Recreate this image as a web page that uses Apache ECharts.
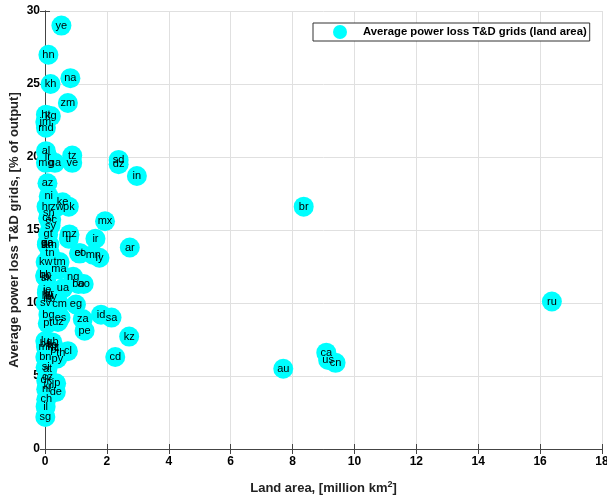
<!DOCTYPE html>
<html>
<head>
<meta charset="utf-8">
<script src="https://cdn.jsdelivr.net/npm/echarts@6/dist/echarts.min.js"></script>
<style>
  html, body { margin: 0; padding: 0; background: #fff; }
  #chart { width: 607px; height: 497px; }
</style>
</head>
<body>
<div id="chart"></div>
<script>
// country codes, land area (million km2), average T&D loss (% of output)
const codes = [
  'ye', 'hn', 'na', 'kh', 'zm', 'ht', 'kg', 'jm', 'md', 'al',
  'lr', 'mg', 'ga', 'tz', 've', 'sd', 'dz', 'in', 'az', 'ni',
  'ke', 'hr', 'zw', 'pk', 'sn', 'cu', 'ec', 'sy', 'mx', 'gt',
  'mz', 'tr', 'ir', 'ar', 'pa', 'am', 'ge', 'lk', 'tn', 'et',
  'co', 'mn', 'ly', 'kw', 'tm', 'ma', 'bh', 'lb', 'sk', 'ng',
  'bo', 'ao', 'ua', 'ie', 'lv', 'hu', 'gr', 'by', 'rs', 'sv',
  'cm', 'eg', 'bg', 'es', 'pt', 'uz', 'za', 'id', 'sa', 'pe',
  'kz', 'cd', 'cl', 'lu', 'be', 'mk', 'gb', 'ro', 'nz', 'it',
  'pl', 'bn', 'py', 'th', 'si', 'at', 'cz', 'dk', 'jp', 'kr',
  'nl', 'de', 'ch', 'il', 'sg', 'br', 'au', 'ca', 'us', 'cn',
  'ru'
];
const landArea = [
  0.53, 0.11, 0.82, 0.18, 0.74, 0.03, 0.19, 0.01, 0.03, 0.03,
  0.09, 0.03, 0.32, 0.88, 0.88, 2.38, 2.38, 2.97, 0.08, 0.12,
  0.57, 0.05, 0.39, 0.77, 0.12, 0.10, 0.20, 0.18, 1.94, 0.10,
  0.79, 0.77, 1.63, 2.74, 0.07, 0.14, 0.07, 0.06, 0.16, 1.10,
  1.14, 1.56, 1.76, 0.02, 0.47, 0.45, 0.01, 0.01, 0.05, 0.91,
  1.08, 1.25, 0.58, 0.07, 0.06, 0.09, 0.13, 0.20, 0.09, 0.02,
  0.47, 1.00, 0.11, 0.50, 0.09, 0.42, 1.22, 1.81, 2.15, 1.28,
  2.72, 2.27, 0.74, 0.01, 0.03, 0.03, 0.24, 0.23, 0.27, 0.30,
  0.31, 0.01, 0.40, 0.51, 0.02, 0.08, 0.08, 0.04, 0.36, 0.10,
  0.04, 0.35, 0.04, 0.02, 0.01, 8.36, 7.70, 9.09, 9.15, 9.39,
  16.38
];
const powerLoss = [
  29.0, 27.0, 25.4, 25.0, 23.7, 22.9, 22.8, 22.4, 22.0, 20.4,
  20.0, 19.6, 19.6, 20.1, 19.6, 19.8, 19.5, 18.7, 18.2, 17.3,
  16.9, 16.6, 16.6, 16.6, 16.2, 15.8, 15.7, 15.3, 15.6, 14.7,
  14.7, 14.4, 14.4, 13.8, 14.1, 14.0, 14.1, 14.0, 13.4, 13.4,
  13.4, 13.3, 13.1, 12.8, 12.8, 12.3, 11.9, 11.8, 11.7, 11.8,
  11.3, 11.3, 11.0, 10.9, 10.7, 10.5, 10.6, 10.4, 10.3, 10.0,
  9.9, 9.9, 9.2, 9.0, 8.6, 8.7, 8.9, 9.2, 9.0, 8.1,
  7.7, 6.3, 6.7, 7.4, 7.2, 7.0, 7.3, 7.1, 7.0, 6.9,
  6.8, 6.3, 6.2, 6.6, 5.6, 5.5, 4.9, 4.7, 4.5, 4.3,
  4.1, 3.9, 3.4, 2.9, 2.2, 16.6, 5.5, 6.6, 6.1, 5.9,
  10.1
];
const xTicks = [0, 18, 2];
const yTicks = [0, 30, 5];

const chart = echarts.init(document.getElementById('chart'));

const points = codes.map((c, i) => ({ name: c, value: [landArea[i], powerLoss[i]] }));

const boldTick = { fontFamily: 'Liberation Sans, Arial, sans-serif', fontWeight: 'bold', fontSize: 12, color: '#000' };

const option = {
  animation: false,
  grid: { left: 45, right: 5, top: 11, bottom: 48, show: false, outerBoundsMode: 'none', containLabel: false },
  legend: {
    data: ['Average power loss T&D grids (land area)'],
    left: 313,
    top: 23,
    padding: [2, 3, 2, 20],
    backgroundColor: '#fff',
    borderColor: '#333',
    borderWidth: 1,
    borderRadius: 0,
    icon: 'circle',
    itemWidth: 14,
    itemHeight: 14,
    textStyle: {
      fontFamily: 'Liberation Sans, Arial, sans-serif',
      fontWeight: 'bold',
      fontSize: 11.3,
      color: '#000',
      padding: [0, 0, 0, 11]
    }
  },
  xAxis: [
    {
      type: 'value', min: xTicks[0], max: xTicks[1], interval: xTicks[2],
      name: 'Land area, [million km{sup|2}]',
      nameLocation: 'middle', nameGap: 31, nameMoveOverlap: false,
      nameTextStyle: {
        fontFamily: 'Liberation Sans, Arial, sans-serif', fontWeight: 'bold', fontSize: 13, color: '#222',
        rich: { sup: { fontSize: 9, fontWeight: 'bold', verticalAlign: 'top', padding: [0, 0, 8, 0] } }
      },
      axisLine: { lineStyle: { color: '#444', width: 1 } },
      axisTick: { inside: true, length: 5, lineStyle: { color: '#444' } },
      axisLabel: Object.assign({ margin: 7 }, boldTick),
      splitLine: { show: true, lineStyle: { color: '#e0e0e0' } }
    },
    {
      type: 'value', position: 'top', min: xTicks[0], max: xTicks[1], interval: xTicks[2],
      axisLine: { lineStyle: { color: '#444', width: 1 } },
      axisTick: { inside: true, length: 5, lineStyle: { color: '#444' } },
      axisLabel: { show: false },
      splitLine: { show: false }
    }
  ],
  yAxis: [
    {
      type: 'value', min: yTicks[0], max: yTicks[1], interval: yTicks[2],
      name: 'Average power loss T&D grids, [% of output]',
      nameLocation: 'middle', nameGap: 24, nameMoveOverlap: false,
      nameTextStyle: { fontFamily: 'Liberation Sans, Arial, sans-serif', fontWeight: 'bold', fontSize: 13, color: '#222' },
      axisLine: { show: true, lineStyle: { color: '#444', width: 1 } },
      axisTick: { show: true, inside: true, length: 5, lineStyle: { color: '#444' } },
      axisLabel: Object.assign({ margin: 5 }, boldTick),
      splitLine: { show: true, lineStyle: { color: '#e0e0e0' } }
    },
    {
      type: 'value', position: 'right', min: yTicks[0], max: yTicks[1], interval: yTicks[2],
      axisLine: { show: true, lineStyle: { color: '#444', width: 1 } },
      axisTick: { show: true, inside: true, length: 5, lineStyle: { color: '#444' } },
      axisLabel: { show: false },
      splitLine: { show: false }
    }
  ],
  series: [
    {
      name: 'Average power loss T&D grids (land area)',
      type: 'scatter',
      symbol: 'circle',
      symbolSize: 20,
      itemStyle: { color: '#00ffff', opacity: 1 },
      label: {
        show: true,
        position: 'inside',
        formatter: p => p.name,
        fontFamily: 'Liberation Sans, Arial, sans-serif',
        fontSize: 11,
        color: '#000'
      },
      emphasis: { disabled: true },
      data: points
    }
  ]
};

chart.setOption(option);
</script>
</body>
</html>
